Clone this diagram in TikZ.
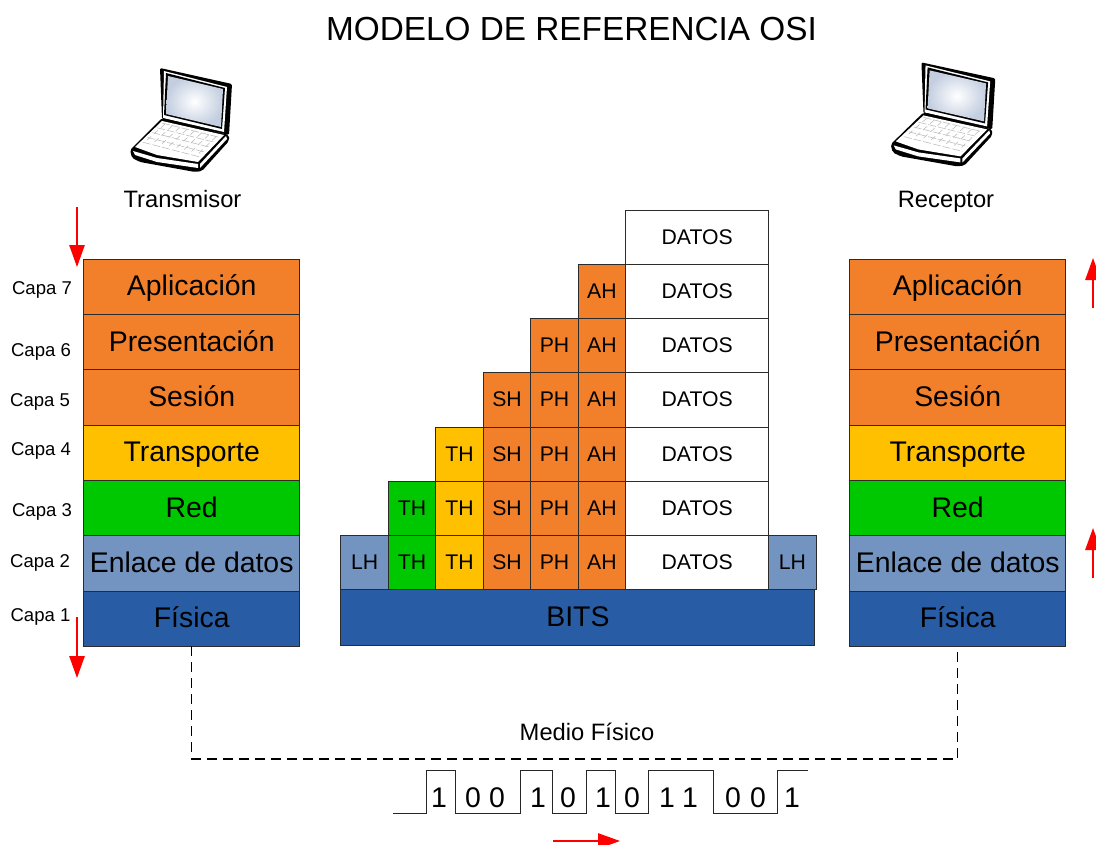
\documentclass[tikz,border=0pt]{standalone}
\usepackage{fontspec}
\setmainfont{Liberation Sans}
\usetikzlibrary{positioning, arrows.meta}
\definecolor{naranja}{HTML}{F2802A}
\definecolor{amarillo}{HTML}{FFC000}
\definecolor{verde}{HTML}{00C800}
\definecolor{celeste}{HTML}{7394C0}
\definecolor{azul}{HTML}{285DA5}
\definecolor{borde}{HTML}{2B2B2B}
\definecolor{pantalla}{HTML}{C3CEE0}
\newcommand{\fsize}[1]{\fontsize{#1}{#1}\selectfont}
\tikzset{
>={Triangle[length=16.5pt, width=11.5pt]}, % red arrow heads
x=0.75pt, y=-0.75pt, % one unit is one pixel of the picture
every node/.style={inner sep=0pt, outer sep=0pt},
capa/.style={draw=borde, line width=0.7pt, minimum width=162pt, minimum height=41.5pt, font=\fsize{21.3}, text height=16.7pt, text depth=3.2pt},
celda/.style={draw=borde, line width=0.7pt, minimum width=35.6pt, minimum height=40.7pt, font=\fsize{15.9}, text height=12.4pt, text depth=2pt},
datos/.style={celda, fill=white, minimum width=107.25pt},
rotulo/.style={font=\fsize{13.9}, text height=11.5pt, text depth=1.5pt},
texto/.style={font=\fsize{17.8}, text height=14pt, text depth=1.3pt},
digito/.style={font=\fsize{21.3}},
flecha/.style={->, red, line width=1.3pt},
pics/laptop/.style={code={
    % lid
    \fill[black, rounded corners=1pt] (-22,-37) -- (50,-21) -- (47,30) -- (-20,14) -- cycle;
    \fill[white] (-18,-34) -- (45,-18) -- (42,27) -- (-19,13) -- cycle;
    \fill[black] (-16,-32) -- (43,-17) -- (40,24) -- (-18,10) -- cycle;
    \shade[inner color=white, outer color=pantalla] (-14,-29) -- (41,-16) -- (39,22) -- (-16,9) -- cycle;
    % base
    \fill[black, rounded corners=1.5pt] (-20,13) -- (47,30) -- (47,36) -- (20,66) -- (13,67) -- (-42,57) -- (-50,53) -- (-52,45) -- cycle;
    \fill[white] (-20,16) -- (42,30) -- (16,57) -- (-25,50) -- (-47,42) -- cycle;
    \fill[white] (-49,46) -- (-25,53) -- (16,59) -- (16,63) -- (-25,57) -- (-47,50) -- cycle;
    \fill[white] (18,59) -- (44,31) -- (45,34) -- (18,63) -- cycle;
    % keys
    \foreach \i in {0,...,4}
        \draw[gray!55, line width=0.4pt, dash pattern=on 6pt off 1.5pt] (-20-\i*4.8,18+\i*4.8) -- (36-\i*4.5,32+\i*5);
    \foreach \i in {0,...,7}
        \draw[gray!55, line width=0.4pt, dash pattern=on 4pt off 3pt] (-17+\i*7.3,19+\i*1.8) -- (-37+\i*7.3,37+\i*2);
}},
}
\begin{document}
\begin{tikzpicture}
\useasboundingbox (0,0) rectangle (1096,845);

\node[font=\fsize{25}] (titulo) at (571.5,29) {MODELO DE REFERENCIA OSI};

\pic at (182,105) {laptop};
\pic[xscale=1.026] at (944,99.4) {laptop};
\node[texto] (transmisor) at (182.5,199) {Transmisor};
\node[texto] (receptor) at (946,199) {Receptor};

% stack of the sender
\node[capa, fill=naranja] (apl) at (191.7,286.7) {Aplicación};
\node[capa, fill=naranja, below=0pt of apl] (pre) {Presentación};
\node[capa, fill=naranja, below=0pt of pre] (ses) {Sesión};
\node[capa, fill=amarillo, below=0pt of ses] (tra) {Transporte};
\node[capa, fill=verde, below=0pt of tra] (red) {Red};
\node[capa, fill=celeste, below=0pt of red] (enl) {Enlace de datos};
\node[capa, fill=azul, below=0pt of enl] (fis) {Física};

% stack of the receiver
\node[capa, fill=naranja] (aplb) at (957.7,286.7) {Aplicación};
\node[capa, fill=naranja, below=0pt of aplb] (preb) {Presentación};
\node[capa, fill=naranja, below=0pt of preb] (sesb) {Sesión};
\node[capa, fill=amarillo, below=0pt of sesb] (trab) {Transporte};
\node[capa, fill=verde, below=0pt of trab] (redb) {Red};
\node[capa, fill=celeste, below=0pt of redb] (enlb) {Enlace de datos};
\node[capa, fill=azul, below=0pt of enlb] (fisb) {Física};

\node[rotulo] (c7) at (42,288) {Capa 7};
\node[rotulo] (c6) at (41,350) {Capa 6};
\node[rotulo] (c5) at (40,400) {Capa 5};
\node[rotulo] (c4) at (41,449) {Capa 4};
\node[rotulo] (c3) at (42,510) {Capa 3};
\node[rotulo] (c2) at (40,561) {Capa 2};
\node[rotulo] (c1) at (40.5,615) {Capa 1};

% data column
\node[datos] (d7) at (697.2,237.2) {DATOS};
\node[datos, below=0pt of d7] (d6) {DATOS};
\node[datos, below=0pt of d6] (d5) {DATOS};
\node[datos, below=0pt of d5] (d4) {DATOS};
\node[datos, below=0pt of d4] (d3) {DATOS};
\node[datos, below=0pt of d3] (d2) {DATOS};
\node[datos, below=0pt of d2] (d1) {DATOS};

% headers, row by row
\node[celda, fill=naranja, left=0pt of d6] (ah6) {AH};
\node[celda, fill=naranja, left=0pt of d5] (ah5) {AH};
\node[celda, fill=naranja, left=0pt of ah5] (ph5) {PH};
\node[celda, fill=naranja, left=0pt of d4] (ah4) {AH};
\node[celda, fill=naranja, left=0pt of ah4] (ph4) {PH};
\node[celda, fill=naranja, left=0pt of ph4] (sh4) {SH};
\node[celda, fill=naranja, left=0pt of d3] (ah3) {AH};
\node[celda, fill=naranja, left=0pt of ah3] (ph3) {PH};
\node[celda, fill=naranja, left=0pt of ph3] (sh3) {SH};
\node[celda, fill=amarillo, left=0pt of sh3] (ty3) {TH};
\node[celda, fill=naranja, left=0pt of d2] (ah2) {AH};
\node[celda, fill=naranja, left=0pt of ah2] (ph2) {PH};
\node[celda, fill=naranja, left=0pt of ph2] (sh2) {SH};
\node[celda, fill=amarillo, left=0pt of sh2] (ty2) {TH};
\node[celda, fill=verde, left=0pt of ty2] (tv2) {TH};
\node[celda, fill=naranja, left=0pt of d1] (ah1) {AH};
\node[celda, fill=naranja, left=0pt of ah1] (ph1) {PH};
\node[celda, fill=naranja, left=0pt of ph1] (sh1) {SH};
\node[celda, fill=amarillo, left=0pt of sh1] (ty1) {TH};
\node[celda, fill=verde, left=0pt of ty1] (tv1) {TH};
\node[celda, fill=celeste, left=0pt of tv1] (lh) {LH};
\node[celda, fill=celeste, right=0pt of d1] (lhb) {LH};
\node[capa, fill=azul, minimum width=355.5pt, anchor=north west] (bits) at (lh.south west) {BITS};

% physical medium
\coordinate (esquina) at (957.7,759);
\draw[line width=0.8pt, dash pattern=on 7.5pt off 4.5pt] (fis.south) |- (esquina) -- (fisb.south);
\node[texto] (medio) at (587,732) {Medio Físico};

% signal
\draw[gray!30!black, line width=0.7pt] (393,813) -- (426,813) -- (426,770) -- (455,770) -- (455,813) -- (520,813) -- (520,770) -- (552,770) -- (552,813) -- (586,813) -- (586,770) -- (615,770) -- (615,813) -- (648,813) -- (648,770) -- (713,770) -- (713,813) -- (777,813) -- (777,770) -- (808,770);
\node[digito] at (439,798) {1};
\node[digito] at (473,798) {0};
\node[digito] at (497,798) {0};
\node[digito] at (538,798) {1};
\node[digito] at (568,798) {0};
\node[digito] at (603,798) {1};
\node[digito] at (632,798) {0};
\node[digito] at (667,798) {1};
\node[digito] at (690,798) {1};
\node[digito] at (733,798) {0};
\node[digito] at (758,798) {0};
\node[digito] at (792,798) {1};

% direction arrows
\coordinate (f1a) at (77,207);
\coordinate (f1b) at (77,267);
\coordinate (f2a) at (77,617);
\coordinate (f2b) at (77,678);
\coordinate (f3a) at (1093,308);
\coordinate (f3b) at (1093,258);
\coordinate (f4a) at (1093,578);
\coordinate (f4b) at (1093,528);
\coordinate (f5a) at (553,841);
\coordinate (f5b) at (620,841);
\draw[flecha] (f1a) -- (f1b);
\draw[flecha] (f2a) -- (f2b);
\draw[flecha] (f3a) -- (f3b);
\draw[flecha] (f4a) -- (f4b);
\draw[flecha] (f5a) -- (f5b);
\end{tikzpicture}
\end{document}
